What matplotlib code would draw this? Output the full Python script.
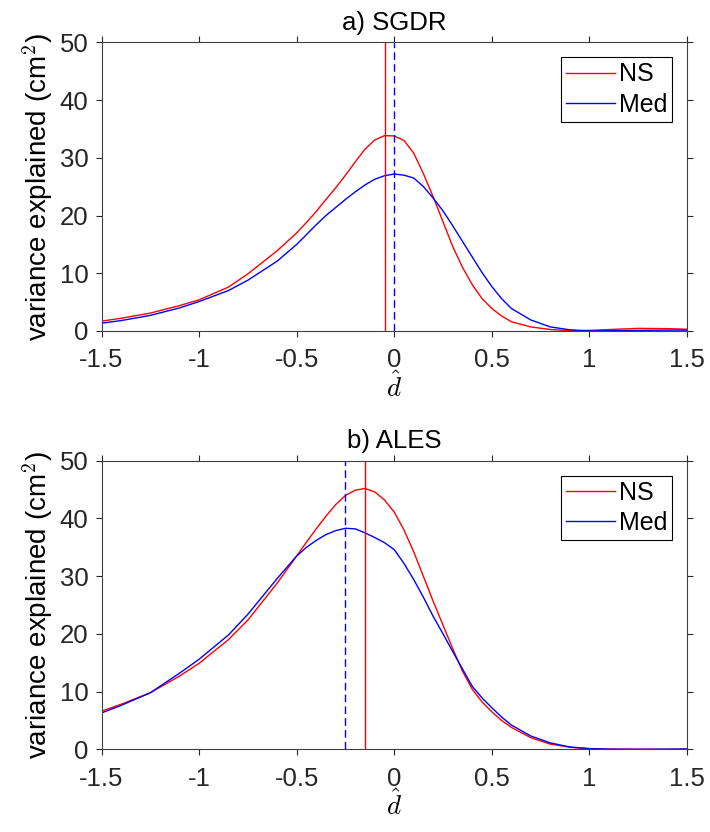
import matplotlib
matplotlib.use("Agg")
import matplotlib.pyplot as plt

plt.rcParams['font.family'] = ['Liberation Sans', 'DejaVu Sans']
plt.rcParams['mathtext.fontset'] = 'cm'
plt.rcParams['axes.unicode_minus'] = False

# shared x grid (d hat)
d_hat = [-1.5, -1.4, -1.25, -1.1, -1.0, -0.85, -0.75, -0.6, -0.5, -0.45, -0.4, -0.35,
         -0.3, -0.25, -0.2, -0.15, -0.1, -0.05, 0.0, 0.05, 0.1, 0.15, 0.2, 0.25, 0.3,
         0.35, 0.4, 0.45, 0.5, 0.55, 0.6, 0.7, 0.8, 0.9, 1.0, 1.1, 1.25, 1.4, 1.5]

# a) SGDR
sgdr_ns = [1.7, 2.2, 3.1, 4.4, 5.4, 7.6, 9.9, 13.9, 17.0, 18.8, 20.7, 22.8,
           24.8, 27.0, 29.3, 31.5, 33.1, 33.85, 33.8, 33.0, 30.8, 27.2, 23.2, 18.9, 14.6,
           11.0, 8.0, 5.6, 3.9, 2.6, 1.6, 0.7, 0.25, 0.05, 0.1, 0.25, 0.45, 0.4, 0.3]
sgdr_med = [1.35, 1.8, 2.7, 4.0, 5.1, 7.0, 8.8, 12.1, 15.0, 16.7, 18.4, 20.0,
            21.4, 22.8, 24.1, 25.3, 26.3, 26.9, 27.2, 27.0, 26.5, 25.0, 23.0, 20.8, 18.2,
            15.5, 12.8, 10.1, 7.7, 5.6, 3.9, 1.9, 0.7, 0.2, 0.0, 0.05, 0.1, 0.15, 0.15]
sgdr_peak_ns = -0.05
sgdr_peak_med = 0.0

# b) ALES
ales_ns = [6.6, 7.8, 9.8, 12.7, 14.9, 19.0, 22.4, 28.8, 33.5, 35.9, 38.2, 40.4,
           42.4, 44.0, 44.9, 45.2, 44.6, 43.2, 41.1, 38.0, 34.2, 29.9, 25.6, 21.5, 17.4,
           13.5, 10.4, 8.2, 6.5, 5.0, 3.8, 2.0, 0.9, 0.35, 0.1, 0.03, 0.0, 0.0, 0.05]
ales_med = [6.3, 7.6, 9.8, 13.2, 15.6, 19.8, 23.4, 29.6, 33.5, 35.0, 36.2, 37.2,
            37.9, 38.3, 38.2, 37.5, 36.7, 35.8, 34.6, 32.2, 29.4, 26.3, 23.0, 20.0, 16.9,
            13.9, 10.9, 8.9, 7.2, 5.6, 4.2, 2.3, 1.1, 0.4, 0.12, 0.03, 0.0, 0.02, 0.05]
ales_peak_ns = -0.15
ales_peak_med = -0.25

xticks = [-1.5, -1, -0.5, 0, 0.5, 1, 1.5]
xticklabels = ['-1.5', '-1', '-0.5', '0', '0.5', '1', '1.5']
yticks = [0, 10, 20, 30, 40, 50]

fig = plt.figure(figsize=(7.1, 8.32), dpi=100)
ax_top = fig.add_axes([0.143, 0.6022, 0.8246, 0.3468])
ax_bot = fig.add_axes([0.143, 0.0994, 0.8246, 0.3468])

panels = [
    (ax_top, 'a) SGDR', sgdr_ns, sgdr_med, sgdr_peak_ns, sgdr_peak_med),
    (ax_bot, 'b) ALES', ales_ns, ales_med, ales_peak_ns, ales_peak_med),
]

fs = 18.5
for ax, title, ns, med, pk_ns, pk_med in panels:
    ax.plot(d_hat, ns, color='#ff0000', lw=1.0, label='NS')
    ax.plot(d_hat, med, color='#0000ff', lw=1.0, label='Med')
    ax.plot([pk_ns, pk_ns], [0, 50], color='#ff0000', lw=1.0)
    ax.plot([pk_med, pk_med], [0, 50], color='#0000ff', lw=1.0, dashes=(5.5, 3))

    ax.set_xlim(-1.5, 1.5)
    ax.set_ylim(0, 50)
    ax.set_xticks(xticks)
    ax.set_xticklabels(xticklabels)
    ax.set_yticks(yticks)
    ax.tick_params(direction='out', length=4.5, width=0.8, colors='#262626',
                   labelsize=fs, top=True, right=True)
    ax.tick_params(axis='x', pad=8)
    ax.tick_params(axis='y', pad=5)
    for sp in ax.spines.values():
        sp.set_color('#404040')
        sp.set_linewidth(0.8)

    ax.set_title(title, fontsize=fs, pad=9)
    ax.set_xlabel(r'$\hat{d}$', fontsize=fs + 1, labelpad=0)
    ax.set_ylabel('variance explained (cm$^2$)', fontsize=20, labelpad=3)

    leg = ax.legend(loc='upper right', fontsize=18, frameon=True, fancybox=False,
                    framealpha=1, edgecolor='black', handlelength=1.95,
                    handletextpad=0.15, borderpad=0.2, labelspacing=0.25,
                    borderaxespad=0.6)
    leg.get_frame().set_linewidth(0.8)

fig.savefig('out.png', dpi=100)
